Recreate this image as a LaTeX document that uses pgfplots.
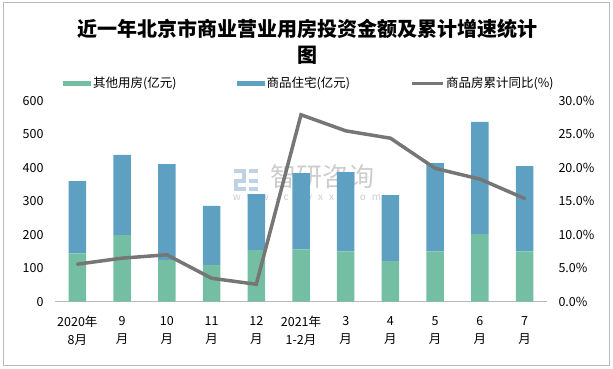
\documentclass[border=0pt]{standalone}
\usepackage{fontspec}
\setmainfont{Noto Sans CJK SC}
\usepackage{pgfplots}
\pgfplotsset{compat=1.18}
\definecolor{cgreen}{RGB}{116,190,164}
\definecolor{cblue}{RGB}{94,160,193}
\definecolor{cline}{RGB}{118,118,118}
\definecolor{cframe}{RGB}{185,185,185}
\definecolor{cwm}{RGB}{205,205,205}
\definecolor{cwmb}{RGB}{190,210,228}
\begin{document}
\begin{tikzpicture}
\path[use as bounding box] (0pt,0pt) rectangle (613pt,369pt);
\draw[cframe, line width=1pt] (3pt,3.5pt) rectangle (609.5pt,366pt);
\node[font=\fontsize{20}{24}\selectfont\bfseries] at (307pt,340.5pt) {近一年北京市商业营业用房投资金额及累计增速统计};
\node[font=\fontsize{20}{24}\selectfont\bfseries] at (307pt,314pt) {图};
% watermark
\fill[cwmb] (234pt,196pt) rectangle (246pt,200pt);
\fill[cwmb] (242pt,187pt) rectangle (246pt,198pt);
\fill[cwmb] (234pt,186pt) rectangle (246pt,190pt);
\fill[cwmb] (234pt,182pt) rectangle (238pt,188pt);
\fill[cwmb] (234pt,182pt) rectangle (246pt,178pt);
\fill[cwmb] (249pt,200pt) rectangle (258pt,196pt);
\fill[cwmb] (249pt,190pt) rectangle (258pt,186pt);
\fill[cwmb] (249pt,178pt) rectangle (258pt,182pt);
\node[text=cwm, font=\fontsize{26}{28}\selectfont] at (322pt,192pt) {智研咨询};
\node[text=cwm, font=\fontsize{10}{12}\selectfont] at (307pt,171pt) {w\hspace{6pt}w\hspace{6pt}w\hspace{6pt}.\hspace{6pt}c\hspace{6pt}h\hspace{6pt}y\hspace{6pt}x\hspace{6pt}x\hspace{6pt}.\hspace{6pt}c\hspace{6pt}o\hspace{6pt}m};
\begin{axis}[
  at={(55pt,67.3pt)}, anchor=south west,
  scale only axis, width=492pt, height=201pt,
  ybar stacked, bar width=17.5pt,
  xmin=-0.5, xmax=10.5, ymin=0, ymax=600,
  ytick={0,100,...,600},
  xtick={0,...,10},
  xticklabels={{2020年\\8月},{9\\月},{10\\月},{11\\月},{12\\月},{2021年\\1-2月},{3\\月},{4\\月},{5\\月},{6\\月},{7\\月}},
  xticklabel style={align=center, font=\fontsize{12.5}{18}\selectfont, yshift=-11pt},
  yticklabel style={font=\fontsize{12.5}{14}\selectfont, xshift=-8pt},
  /pgf/number format/assume math mode=true,
  axis x line*=bottom, axis y line*=left,
  y axis line style={draw=none},
  x axis line style={draw=cframe, line width=0.8pt, -},
  major tick length=0pt,
  legend columns=3,
  legend style={at={(0.0102,1.088)}, anchor=west, draw=none, fill=none,
    font=\fontsize{12.5}{14}\selectfont,
    /tikz/every even column/.append style={column sep=58pt}},
  legend cell align=left,
]
\addplot[fill=cgreen, draw=none, area legend, legend image code/.code={\fill[cgreen] (0pt,-2.5pt) rectangle (28pt,2.5pt);}] coordinates {(0,144) (1,199) (2,124) (3,110) (4,154) (5,156) (6,150) (7,121) (8,150) (9,202) (10,150)};
\addlegendentry{其他用房(亿元)}
\addplot[fill=cblue, draw=none, legend image code/.code={\fill[cblue] (0pt,-2.5pt) rectangle (28pt,2.5pt);}] coordinates {(0,216) (1,239) (2,287) (3,176) (4,167) (5,228) (6,237) (7,197) (8,264) (9,335) (10,255)};
\addlegendentry{商品住宅(亿元)}
\addlegendimage{legend image code/.code={\draw[cline, line width=3pt] (0pt,0pt) -- (31pt,0pt);}}
\addlegendentry{商品房累计同比(\%)}
\end{axis}
\begin{axis}[
  at={(55pt,67.3pt)}, anchor=south west,
  scale only axis, width=492pt, height=201pt,
  xmin=-0.5, xmax=10.5, ymin=0, ymax=30,
  ytick={0,5,...,30},
  axis y line*=right, axis x line=none,
  y axis line style={draw=none},
  major tick length=0pt,
  /pgf/number format/assume math mode=true,
  yticklabel={\pgfmathprintnumber[fixed,fixed zerofill,precision=1]{\tick}\%},
  yticklabel style={font=\fontsize{12.5}{14}\selectfont, xshift=8pt},
]
\addplot[cline, line width=3.5pt, line cap=round] coordinates {(0,5.6) (1,6.5) (2,7.0) (3,3.5) (4,2.6) (5,27.9) (6,25.5) (7,24.4) (8,19.9) (9,18.3) (10,15.4)};
\end{axis}
\end{tikzpicture}
\end{document}
